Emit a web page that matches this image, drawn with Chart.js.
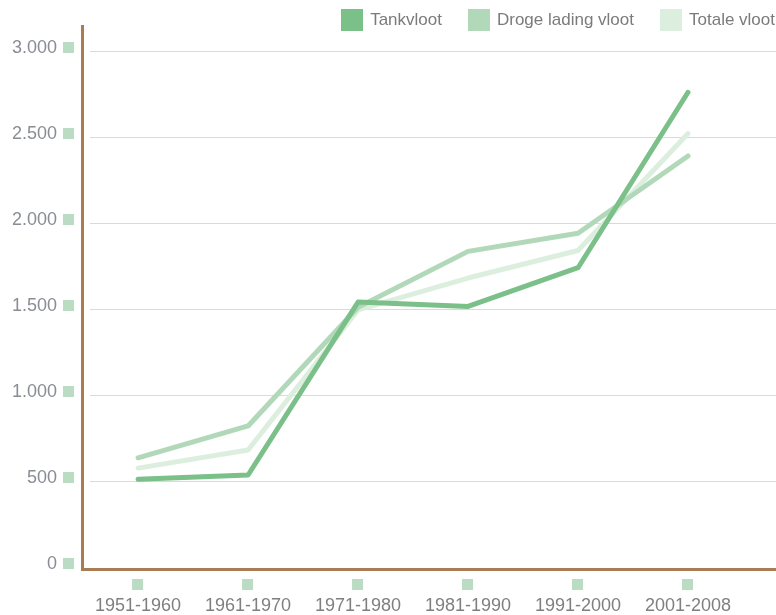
<!DOCTYPE html>
<html>
<head>
<meta charset="utf-8">
<script src="https://cdn.jsdelivr.net/npm/chart.js@4.4.1/dist/chart.umd.min.js"></script>
<style>
  html,body{margin:0;padding:0;background:#fff;}
  #wrap{position:relative;width:776px;height:615px;}
  #legend{position:absolute;top:9px;right:1px;display:flex;align-items:center;
    font-family:'Liberation Sans',sans-serif;font-size:17px;color:#7b7b7b;line-height:22px;}
  #legend .item{display:flex;align-items:center;margin-left:26px;}
  #legend .box{width:22px;height:22px;margin-right:7px;}
</style>
</head>
<body>
<div id="wrap">
  <canvas id="chart" width="776" height="615"></canvas>
  <div id="legend"></div>
</div>
<script>
const periods = ['1951-1960','1961-1970','1971-1980','1981-1990','1991-2000','2001-2008'];
const tankvloot = [510, 535, 1540, 1515, 1740, 2760];
const drogeLading = [635, 820, 1510, 1835, 1940, 2390];
const totaleVloot = [575, 680, 1495, 1680, 1840, 2520];
const yTicks = [0, 500, 1000, 1500, 2000, 2500, 3000];

const GREEN_DARK = '#7bbf89';
const GREEN_MID = '#b1d8b9';
const GREEN_LIGHT = '#dcefdf';
const TICK_SQ = '#badcc3';
const BROWN = '#a97d53';

function pts(arr){ return arr.map((v,i)=>({x:i,y:v})); }
function fmt(v){ return String(v).replace(/\B(?=(\d{3})+(?!\d))/g,'.'); }

// grid, assen en tick-blokjes
const decor = {
  id:'decor',
  beforeDatasetsDraw(chart){
    const {ctx, chartArea, scales} = chart;
    const y = scales.y, x = scales.x;
    ctx.save();
    ctx.strokeStyle = '#dadada';
    ctx.lineWidth = 1.2;
    yTicks.forEach(t=>{
      if(t===0) return;
      const py = Math.round(y.getPixelForValue(t))+0.5;
      ctx.beginPath(); ctx.moveTo(chartArea.left+8, py); ctx.lineTo(chartArea.right, py); ctx.stroke();
    });
    ctx.fillStyle = TICK_SQ;
    yTicks.forEach(t=>{
      const py = y.getPixelForValue(t);
      ctx.fillRect(chartArea.left-19, py-9, 11, 11);
    });
    periods.forEach((p,i)=>{
      const px = x.getPixelForValue(i);
      ctx.fillRect(px-6, chartArea.bottom+12, 11, 11);
    });
    ctx.strokeStyle = BROWN;
    ctx.lineWidth = 3;
    ctx.beginPath();
    ctx.moveTo(chartArea.left+0.5, 25);
    ctx.lineTo(chartArea.left+0.5, chartArea.bottom+2.5);
    ctx.lineTo(chartArea.right, chartArea.bottom+2.5);
    ctx.stroke();
    ctx.restore();
  }
};

const ds = (label, data, color) => ({
  label, data: pts(data), borderColor: color, backgroundColor: color,
  borderWidth: 5, pointRadius: 0, borderCapStyle: 'round', borderJoinStyle: 'round', tension: 0
});

const chart = new Chart(document.getElementById('chart'), {
  type: 'line',
  data: {
    datasets: [
      ds('Tankvloot', tankvloot, GREEN_DARK),
      ds('Droge lading vloot', drogeLading, GREEN_MID),
      ds('Totale vloot', totaleVloot, GREEN_LIGHT)
    ]
  },
  options: {
    responsive: false,
    animation: false,
    layout: { padding: { top: 51, right: 0, left: 0, bottom: 0 } },
    plugins: {
      tooltip: { enabled: false },
      legend: { display: false }
    },
    scales: {
      x: {
        type: 'linear', min: -0.51, max: 5.8,
        afterBuildTicks: s => { s.ticks = periods.map((p,i)=>({value:i})); },
        afterFit: s => { s.height = 48; },
        grid: { display: false, drawTicks: false },
        border: { display: false },
        ticks: {
          callback: v => periods[v] || '',
          color: '#7f7f7f', padding: 28, maxRotation: 0, autoSkip: false,
          font: { family: 'Liberation Sans', size: 18 }
        }
      },
      y: {
        min: 0, max: 3000,
        afterBuildTicks: s => { s.ticks = yTicks.map(v=>({value:v})); },
        afterFit: s => { s.width = 82; },
        grid: { display: false, drawTicks: false },
        border: { display: false },
        ticks: {
          callback: v => fmt(v),
          color: '#8a8d94', padding: 25, labelOffset: -3,
          font: { family: 'Liberation Sans', size: 18 }
        }
      }
    }
  },
  plugins: [decor]
});

// legenda als html
const legend = document.getElementById('legend');
chart.data.datasets.forEach(d=>{
  const item = document.createElement('div'); item.className = 'item';
  const box = document.createElement('span'); box.className = 'box'; box.style.background = d.borderColor;
  const txt = document.createElement('span'); txt.textContent = d.label;
  item.appendChild(box); item.appendChild(txt); legend.appendChild(item);
});
</script>
</body>
</html>
